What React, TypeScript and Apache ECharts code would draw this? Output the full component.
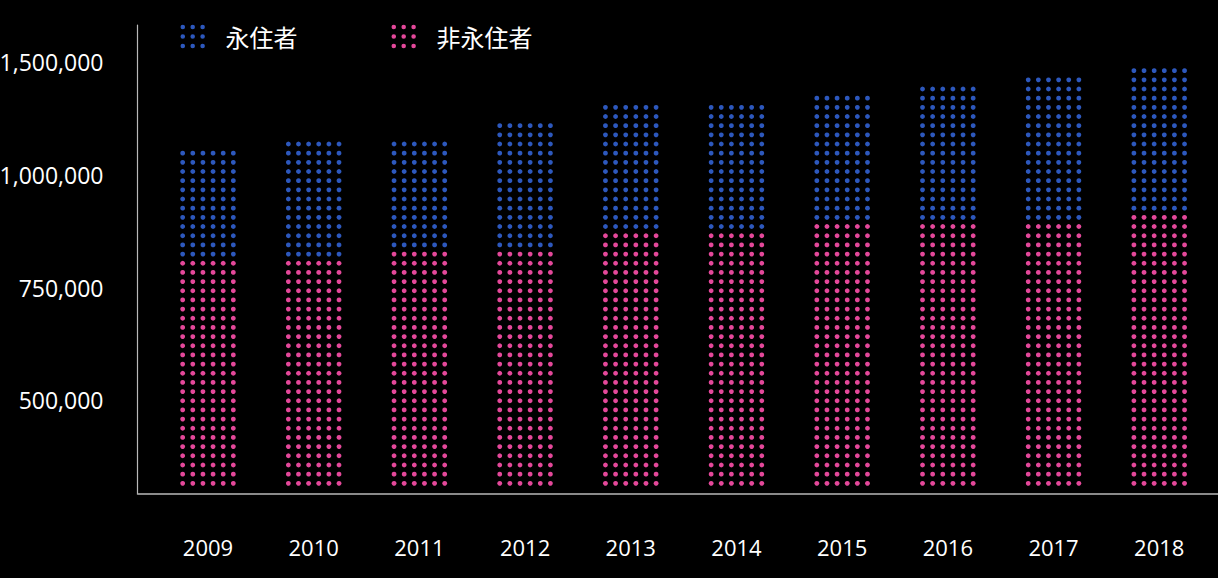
import React, { useEffect, useRef } from "react";
import * as echarts from "echarts";

// ---- data ----
const years = ["2009", "2010", "2011", "2012", "2013", "2014", "2015", "2016", "2017", "2018"];
const nonPermanent = [813000, 813000, 833000, 833000, 874000, 874000, 894000, 894000, 894000, 915000];
const permanent = [244000, 265000, 245000, 286000, 285000, 285000, 286000, 306000, 326000, 326000];
const yTickValues = [500000, 750000, 1000000, 1250000];
const yTickLabels = ["500,000", "750,000", "1,000,000", "1,500,000"];
const seriesNames = ["永住者", "非永住者"];

// ---- layout / style ----
const Y_MIN = 292667;
const Y_MAX = 1333333;
const X_MIN = -0.667;
const X_MAX = 9.556;
const BLUE = "#2d58bd";
const PINK = "#e4489a";
const AXIS_COLOR = "#b9b9b9";
const DOT_R = 2.4;
const ROW_GAP = 9.17;
const COL_GAP = 10.13;
const COLS = 6;
const BOTTOM_OFFSET = 10;

function dotCircle(cx: number, cy: number, r: number) {
  return `M${cx - r} ${cy} A${r} ${r} 0 1 0 ${cx + r} ${cy} A${r} ${r} 0 1 0 ${cx - r} ${cy} Z`;
}
const ICON_PATH =
  "path://" +
  [2.2, 12.2, 22.2]
    .flatMap((x) => [2.2, 11.7, 21.2].map((y) => dotCircle(x, y, 2.3)))
    .join(" ");

function makeRenderItem(color: string) {
  return (params: any, api: any) => {
    const idx = api.value(0);
    const start = api.value(1);
    const end = api.value(2);
    const base = api.coord([idx, Y_MIN]);
    const pStart = api.coord([idx, start]);
    const pEnd = api.coord([idx, end]);
    const cx = base[0];
    const children: any[] = [];
    for (let k = 0; k < 200; k++) {
      const y = base[1] - BOTTOM_OFFSET - k * ROW_GAP;
      if (y < pEnd[1]) break;
      if (y >= pStart[1]) continue;
      for (let c = 0; c < COLS; c++) {
        children.push({
          type: "circle",
          shape: { cx: cx + (c - (COLS - 1) / 2) * COL_GAP, cy: y, r: DOT_R },
          style: { fill: color },
        });
      }
    }
    return { type: "group", children };
  };
}

export default function App() {
  const ref = useRef<HTMLDivElement>(null);
  useEffect(() => {
    if (!ref.current) return;
    const chart = echarts.init(ref.current, null, { renderer: "svg" });
    const pinkData = years.map((_, i) => [i, Y_MIN, nonPermanent[i]]);
    const blueData = years.map((_, i) => [i, nonPermanent[i], nonPermanent[i] + permanent[i]]);
    chart.setOption({
      animation: false,
      backgroundColor: "#000",
      grid: {
        left: 137.5,
        right: 0,
        top: 25,
        bottom: 84.7,
        containLabel: false,
        outerBoundsMode: "none",
      } as any,
      legend: {
        left: 180.5,
        top: 24.5,
        padding: 0,
        itemWidth: 24.4,
        itemHeight: 23.4,
        itemGap: 94,
        selectedMode: false,
        textStyle: {
          color: "#fff",
          fontSize: 24,
          fontFamily: "Noto Sans CJK JP",
          padding: [0, 0, 0, 15.6],
        },
        data: [
          { name: seriesNames[0], icon: ICON_PATH },
          { name: seriesNames[1], icon: ICON_PATH },
        ],
      },
      xAxis: {
        type: "value",
        min: X_MIN,
        max: X_MAX,
        splitLine: { show: false },
        axisTick: { show: false },
        axisLine: { show: true, onZero: false, lineStyle: { color: AXIS_COLOR, width: 1.5 } },
        axisLabel: {
          customValues: years.map((_, i) => i),
          formatter: (v: number) => years[Math.round(v)] ?? "",
          color: "#fff",
          fontSize: 22,
          fontFamily: "Open Sans",
          margin: 43,
        },
      } as any,
      yAxis: {
        type: "value",
        min: Y_MIN,
        max: Y_MAX,
        splitLine: { show: false },
        axisTick: { show: false },
        axisLine: { show: true, onZero: false, lineStyle: { color: AXIS_COLOR, width: 1.2 } },
        axisLabel: {
          customValues: yTickValues,
          formatter: (v: number) => {
            const i = yTickValues.indexOf(v);
            return i >= 0 ? yTickLabels[i] : "";
          },
          color: "#fff",
          fontSize: 23,
          fontFamily: "Open Sans",
          margin: 34,
        },
      } as any,
      series: [
        {
          name: seriesNames[1],
          type: "custom",
          itemStyle: { color: PINK },
          encode: { x: 0, y: 2 },
          clip: false,
          renderItem: makeRenderItem(PINK),
          data: pinkData,
        },
        {
          name: seriesNames[0],
          type: "custom",
          itemStyle: { color: BLUE },
          encode: { x: 0, y: 2 },
          clip: false,
          renderItem: makeRenderItem(BLUE),
          data: blueData,
        },
      ],
    });
    return () => chart.dispose();
  }, []);
  return (
    <div
      ref={ref}
      style={{ position: "fixed", left: 0, top: 0, width: 1218, height: 578, background: "#000" }}
    />
  );
}
